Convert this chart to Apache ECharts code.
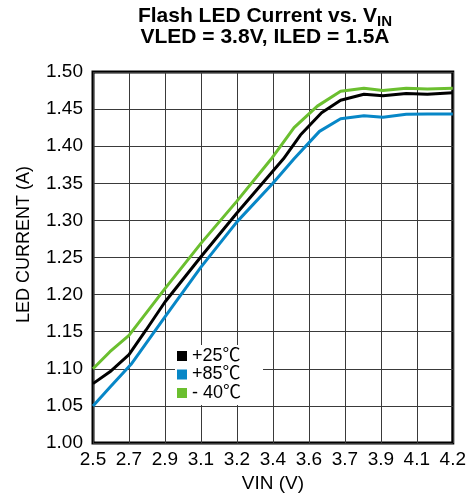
<!DOCTYPE html>
<html>
<head>
<meta charset="utf-8">
<script src="https://cdn.jsdelivr.net/npm/echarts@6/dist/echarts.min.js"></script>
<style>html,body{margin:0;padding:0;background:#fff}#c{width:469px;height:504px}</style>
</head>
<body>
<div id="c"></div>
<script>
// Tick labels of the VIN axis (as printed on the original chart)
var xTickLabels = ['2.5','2.7','2.9','3.1','3.2','3.4','3.6','3.7','3.9','4.1','4.2'];
var seriesNames = ['+25\u2103', '+85\u2103', '- 40\u2103'];
// [VIN (V), LED current (A)]
var t25 = [[2.50,1.080],[2.58,1.096],[2.67,1.119],[2.75,1.152],[2.84,1.190],[3.01,1.251],[3.18,1.310],[3.40,1.383],[3.48,1.415],[3.58,1.445],[3.67,1.462],[3.78,1.470],[3.87,1.468],[3.98,1.471],[4.08,1.470],[4.20,1.472]];
var t85 = [[2.50,1.050],[2.58,1.075],[2.68,1.106],[2.84,1.170],[3.01,1.237],[3.18,1.298],[3.35,1.350],[3.45,1.383],[3.57,1.420],[3.67,1.437],[3.78,1.441],[3.87,1.439],[3.98,1.443],[4.08,1.4435],[4.20,1.4435]];
var tm40 = [[2.50,1.100],[2.58,1.123],[2.67,1.145],[2.84,1.208],[3.01,1.269],[3.18,1.326],[3.34,1.382],[3.45,1.425],[3.56,1.454],[3.67,1.474],[3.78,1.478],[3.87,1.475],[3.98,1.478],[4.08,1.477],[4.20,1.478]];
var colors = ['#000000', '#0787c7', '#6bbf2f'];

var FONT = "'Liberation Sans', Arial, 'Noto Sans CJK SC', sans-serif";
var chart = echarts.init(document.getElementById('c'), null, {renderer: 'canvas'});
chart.setOption({
  animation: false,
  backgroundColor: '#fff',
  title: [{
    left: 265, top: 9.7, textAlign: 'center', padding: 0,
    text: '{a|Flash LED Current vs. V}{s|IN}',
    textStyle: {
      fontFamily: FONT,
      rich: {
        a: {fontSize: 21, fontWeight: 'bold', color: '#000', fontFamily: FONT, lineHeight: 20, padding: [0, 0, 3, 0], verticalAlign: 'bottom'},
        s: {fontSize: 15, fontWeight: 'bold', color: '#000', fontFamily: FONT, lineHeight: 15, verticalAlign: 'bottom'}
      }
    }
  }, {
    left: 265, top: 27.5, textAlign: 'center', padding: 0,
    text: 'VLED = 3.8V, ILED = 1.5A',
    textStyle: {fontSize: 21, fontWeight: 'bold', color: '#000', fontFamily: FONT, lineHeight: 20}
  }],
  legend: {
    orient: 'vertical', left: 175, top: 345,
    backgroundColor: '#fff', padding: [2, 22, 3, 2],
    itemWidth: 10, itemHeight: 10, itemGap: 0.5, icon: 'rect',
    textStyle: {fontSize: 18, color: '#000', fontFamily: FONT},
    data: seriesNames
  },
  grid: {left: 93, top: 72, width: 360, height: 371, show: true, borderColor: '#000', borderWidth: 3, containLabel: false},
  xAxis: {
    type: 'value', min: 2.5, max: 4.2, interval: 0.17,
    name: 'VIN (V)', nameLocation: 'middle', nameGap: 28,
    nameTextStyle: {fontSize: 19, color: '#000', fontFamily: FONT},
    axisLine: {show: false}, axisTick: {show: false},
    axisLabel: {
      fontSize: 19, color: '#000', fontFamily: FONT, margin: 7,
      formatter: function (v) { return xTickLabels[Math.round((v - 2.5) / 0.17)] || ''; }
    },
    splitLine: {show: true, lineStyle: {color: '#3a3a3a', width: 1}}
  },
  yAxis: {
    type: 'value', min: 1.0, max: 1.5, interval: 0.05,
    name: 'LED CURRENT (A)', nameLocation: 'middle', nameGap: 60, nameRotate: 90,
    nameTextStyle: {fontSize: 18, color: '#000', fontFamily: FONT, padding: [0, 0, 0, 26]},
    axisLine: {show: false}, axisTick: {show: false},
    axisLabel: {fontSize: 19, color: '#000', fontFamily: FONT, margin: 10, formatter: function (v) { return v.toFixed(2); }},
    splitLine: {show: true, lineStyle: {color: '#3a3a3a', width: 1}}
  },
  series: [
    {name: seriesNames[0], type: 'line', data: t25, showSymbol: false, symbol: 'none', lineStyle: {width: 3, color: colors[0]}, itemStyle: {color: colors[0]}, z: 3},
    {name: seriesNames[1], type: 'line', data: t85, showSymbol: false, symbol: 'none', lineStyle: {width: 3, color: colors[1]}, itemStyle: {color: colors[1]}, z: 3},
    {name: seriesNames[2], type: 'line', data: tm40, showSymbol: false, symbol: 'none', lineStyle: {width: 3, color: colors[2]}, itemStyle: {color: colors[2]}, z: 3}
  ]
});
</script>
</body>
</html>
